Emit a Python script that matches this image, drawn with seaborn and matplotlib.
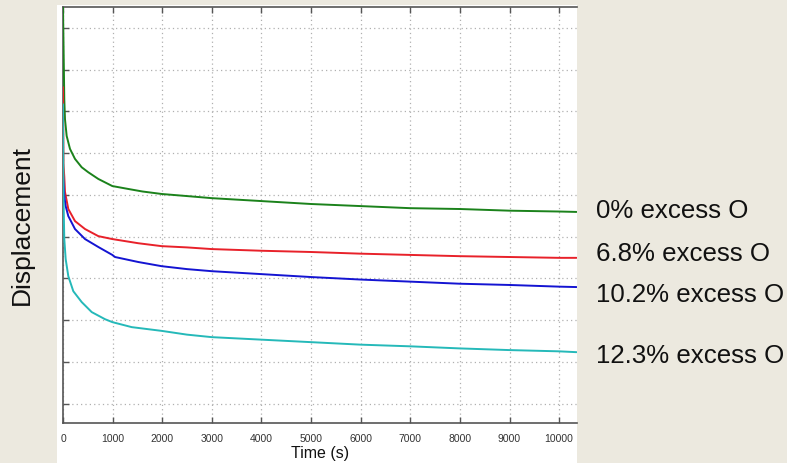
import numpy as np
import pandas as pd
import matplotlib
matplotlib.use("Agg")
import matplotlib.pyplot as plt
from matplotlib.patches import Rectangle
import seaborn as sns

# Creep displacement vs. time for four excess levels (relative units)
t_green = [0, 26, 40, 74, 141, 242, 377, 510, 712, 994, 1317, 1600, 1990, 2500,
           3000, 4000, 5000, 6000, 7000, 8000, 9000, 10000, 10350]
d_green = [10.50, 8.29, 7.81, 7.41, 7.10, 6.86, 6.66, 6.54, 6.38, 6.21, 6.14, 6.08,
           6.02, 5.97, 5.92, 5.85, 5.78, 5.73, 5.68, 5.66, 5.62, 5.60, 5.59]

t_red = [0, 10, 26, 40, 107, 242, 444, 712, 994, 1518, 1990, 2500, 3000, 4000,
         5000, 6000, 7000, 8000, 9000, 10000, 10350]
d_red = [8.58, 6.74, 6.43, 6.07, 5.66, 5.37, 5.18, 5.01, 4.94, 4.84, 4.77, 4.74,
         4.70, 4.66, 4.63, 4.59, 4.56, 4.53, 4.51, 4.49, 4.49]

t_blue = [0, 26, 54, 107, 242, 444, 712, 994, 1048, 1518, 1990, 2500, 3000, 4000,
          5000, 6000, 7000, 8000, 9000, 10000, 10350]
d_blue = [6.50, 5.97, 5.73, 5.49, 5.18, 4.94, 4.75, 4.56, 4.51, 4.39, 4.29, 4.22,
          4.17, 4.10, 4.03, 3.97, 3.92, 3.87, 3.84, 3.80, 3.79]

t_cyan = [0, 10, 26, 54, 107, 208, 377, 579, 847, 994, 1385, 1990, 2500, 3000,
          4000, 5000, 6000, 7000, 8000, 9000, 10000, 10350]
d_cyan = [8.17, 5.90, 4.94, 4.46, 4.05, 3.69, 3.43, 3.19, 3.02, 2.95, 2.83, 2.74,
          2.65, 2.59, 2.53, 2.47, 2.41, 2.37, 2.32, 2.28, 2.25, 2.23]

series_names = ["0% excess O", "6.8% excess O", "10.2% excess O", "12.3% excess O"]
series_colors = ["#1b821b", "#e8212a", "#1414d2", "#25b9b9"]
label_y_px = [211, 254, 295.5, 356]

x_ticks = [0, 1000, 2000, 3000, 4000, 5000, 6000, 7000, 8000, 9000, 10000]
y_ticks = [1, 2, 3, 4, 5, 6, 7, 8, 9, 10]

frames = []
for name, t, d in zip(series_names,
                      [t_green, t_red, t_blue, t_cyan],
                      [d_green, d_red, d_blue, d_cyan]):
    frames.append(pd.DataFrame({"time": t, "disp": d, "series": name}))
df = pd.concat(frames, ignore_index=True)

sns.set_theme(style="white")
plt.rcParams["font.family"] = ["Liberation Sans", "DejaVu Sans"]

W, H = 787, 464
fig = plt.figure(figsize=(W / 100, H / 100), dpi=100)
fig.patch.set_facecolor("#ece9df")

# white panel behind the plot
fig.patches.append(Rectangle((57 / W, 0), (577 - 57) / W, (464 - 6) / H,
                             transform=fig.transFigure, facecolor="white",
                             edgecolor="none", zorder=-5))

ax = fig.add_axes([63 / W, (H - 424) / H, (577 - 63) / W, (424 - 8) / H])
ax.set_zorder(2)
ax.set_facecolor("white")

sns.lineplot(data=df, x="time", y="disp", hue="series", palette=series_colors,
             hue_order=series_names, estimator=None, sort=False, linewidth=1.4,
             legend=False, ax=ax, zorder=3)

ax.set_xlim(0, 10360)
ax.set_ylim(0.533, 10.5)
ax.set_xticks(x_ticks)
ax.set_xticklabels([str(v) for v in x_ticks], fontsize=7.5, color="#333333")
ax.set_yticks(y_ticks)
ax.set_yticklabels([])
ax.tick_params(axis="x", direction="in", length=4, width=1, color="#555555",
               top=True, bottom=True, pad=7)
ax.tick_params(axis="y", direction="in", length=4, width=1, color="#555555",
               left=True, right=False)
ax.grid(True, linestyle=(0, (1, 2.5)), color="#b0b0b0", linewidth=0.9)

for side in ["left", "bottom", "top"]:
    ax.spines[side].set_visible(True)
    ax.spines[side].set_color("#555555")
    ax.spines[side].set_linewidth(1.2)
ax.spines["right"].set_visible(False)

ax.set_xlabel("Time (s)", fontsize=11.5, color="#111111", labelpad=2)
ax.set_ylabel("")

fig.text(22 / W, (H - 225) / H, "Displacement", rotation=90, fontsize=19,
         color="#111111", ha="center", va="center")

for name, ypx in zip(series_names, label_y_px):
    fig.text(596 / W, (H - ypx) / H, name, fontsize=18.6, color="#111111",
             ha="left", va="center")

fig.savefig("out.png", dpi=100, facecolor=fig.get_facecolor())
